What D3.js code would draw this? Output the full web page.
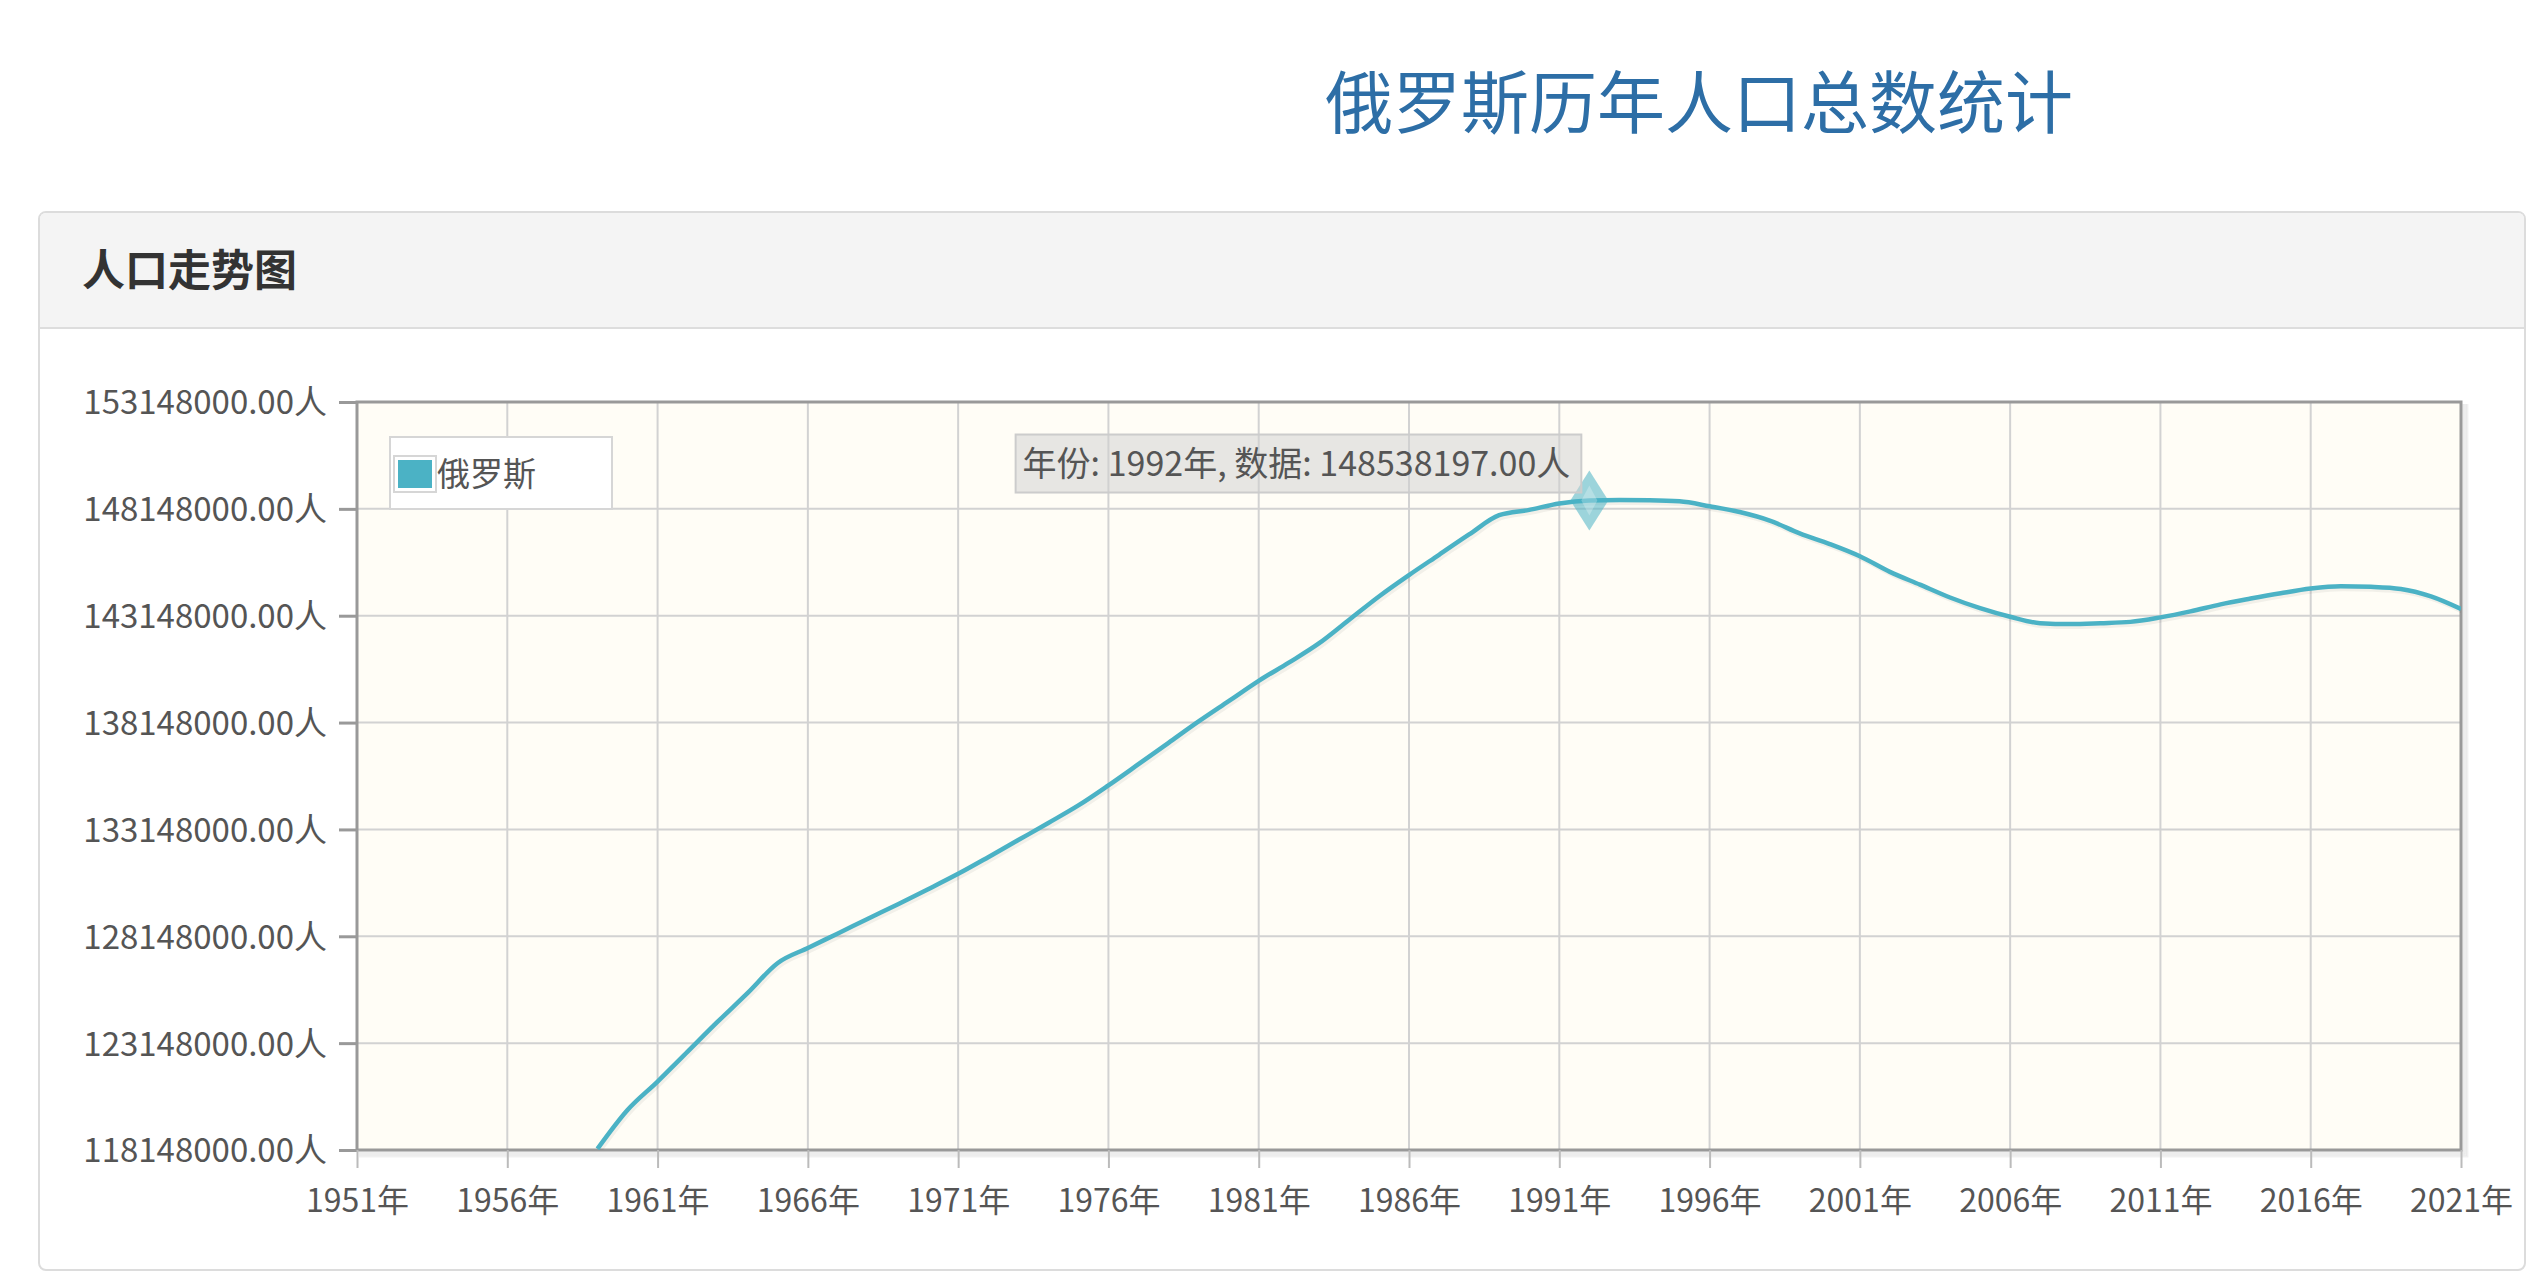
<!DOCTYPE html>
<html><head><meta charset="utf-8">
<script src="https://cdn.jsdelivr.net/npm/d3@7/dist/d3.min.js"></script>
<style>
html,body{margin:0;padding:0;background:#fff;}
svg{display:block;font-family:"Noto Sans CJK SC","Noto Sans",sans-serif;}
</style></head><body>
<svg id="chart" width="2534" height="1280"></svg>
<script>
// ---- data ----
const pageTitle = "俄罗斯历年人口总数统计";
const panelTitle = "人口走势图";
const seriesName = "俄罗斯";
const years = [1959,1960,1961,1962,1963,1964,1965,1966,1967,1968,1969,1970,
  1971,1972,1973,1974,1975,1976,1977,1978,1979,1980,1981,1982,1983,1984,1985,
  1986,1987,1988,1989,1990,1991,1992,1993,1994,1995,1996,1997,1998,1999,2000,
  2001,2002,2003,2004,2005,2006,2007,2008,2009,2010,2011,2012,2013,2014,2015,
  2016,2017,2018,2019,2020,2021];
const population = [118200000,120020000,121350000,122750000,124150000,125500000,126900000,127600000,128280000,128970000,129650000,130350000,
  131070000,131850000,132650000,133450000,134270000,135210000,136200000,137200000,138200000,139150000,140100000,140950000,141850000,142950000,144050000,
  145050000,146000000,146950000,147850000,148100000,148400000,148538197,148560000,148550000,148500000,148270000,148000000,147600000,147000000,146500000,
  145930000,145200000,144600000,144000000,143500000,143100000,142800000,142760000,142800000,142860000,143070000,143350000,143680000,143950000,144200000,
  144420000,144530000,144500000,144400000,144050000,143460000];
const yTickValues = [118148000,123148000,128148000,133148000,138148000,143148000,148148000,153148000];
const xTickValues = [1951,1956,1961,1966,1971,1976,1981,1986,1991,1996,2001,2006,2011,2016,2021];
const highlightYear = 1992;

// ---- layout ----
const svg = d3.select("#chart");
const plot = {left: 357, right: 2461, top: 402, bottom: 1150};
const lineColor = "#4bb2c5";
const fontCJK = '"Noto Sans CJK SC","Noto Sans",sans-serif';

const x = d3.scaleLinear().domain([xTickValues[0], xTickValues[xTickValues.length-1]]).range([plot.left, plot.right]);
const y = d3.scaleLinear().domain([yTickValues[0], yTickValues[yTickValues.length-1]]).range([plot.bottom, plot.top]);

// page title
svg.append("text").attr("x", 1699).attr("y", 128).attr("text-anchor", "middle")
  .attr("font-size", 68).attr("fill", "#2d6ea6").attr("font-family", fontCJK)
  .text(pageTitle);

// panel
svg.append("rect").attr("x", 39).attr("y", 212).attr("width", 2486).attr("height", 1058)
  .attr("rx", 7).attr("fill", "#fff").attr("stroke", "#dcdcdc").attr("stroke-width", 2);
svg.append("path").attr("d", "M40,328 V219 Q40,213 46,213 H2518 Q2524,213 2524,219 V328 Z")
  .attr("fill", "#f4f4f4");
svg.append("line").attr("x1", 40).attr("x2", 2524).attr("y1", 328).attr("y2", 328)
  .attr("stroke", "#dddddd").attr("stroke-width", 2);
svg.append("text").attr("x", 82).attr("y", 286).attr("font-size", 43).attr("font-weight", "bold")
  .attr("fill", "#333").attr("font-family", fontCJK).text(panelTitle);

// plot background
svg.append("rect").attr("x", plot.left).attr("y", plot.top)
  .attr("width", plot.right - plot.left).attr("height", plot.bottom - plot.top)
  .attr("fill", "#fffdf6");

// grid
const grid = svg.append("g");
grid.selectAll("line.h").data(yTickValues.slice(1, -1)).join("line")
  .attr("x1", plot.left).attr("x2", plot.right)
  .attr("y1", d => y(d)).attr("y2", d => y(d))
  .attr("stroke", "#d2d2d2").attr("stroke-width", 2);
grid.selectAll("line.v").data(xTickValues.slice(1, -1)).join("line")
  .attr("y1", plot.top).attr("y2", plot.bottom)
  .attr("x1", d => x(d)).attr("x2", d => x(d))
  .attr("stroke", "#d2d2d2").attr("stroke-width", 2);

// border shadow
for (let i = 1; i <= 4; i++) {
  svg.append("path")
    .attr("d", `M${plot.left + 2},${plot.bottom + i * 1.6} H${plot.right + i * 1.6} V${plot.top + 2}`)
    .attr("fill", "none").attr("stroke", "#000").attr("stroke-opacity", 0.06).attr("stroke-width", 2);
}
// border
svg.append("rect").attr("x", plot.left).attr("y", plot.top)
  .attr("width", plot.right - plot.left).attr("height", plot.bottom - plot.top)
  .attr("fill", "none").attr("stroke", "#999").attr("stroke-width", 3);

// y axis
const yAxis = d3.axisLeft(y).tickValues(yTickValues).tickSize(18).tickPadding(12)
  .tickFormat(d => d3.format(".2f")(d) + "人");
const gy = svg.append("g").attr("transform", `translate(${plot.left},0)`).call(yAxis);
gy.select(".domain").remove();
gy.selectAll(".tick line").attr("stroke", "#999").attr("stroke-width", 3);
gy.selectAll(".tick text").attr("font-size", 33).attr("fill", "#555").attr("font-family", fontCJK)
  .attr("dy", "0.36em");

// x axis
const xAxis = d3.axisBottom(x).tickValues(xTickValues).tickSize(18).tickPadding(21)
  .tickFormat(d => d + "年");
const gx = svg.append("g").attr("transform", `translate(0,${plot.bottom})`).call(xAxis);
gx.select(".domain").remove();
gx.selectAll(".tick line").attr("stroke", "#bbb").attr("stroke-width", 2);
gx.selectAll(".tick text").attr("font-size", 32).attr("fill", "#555").attr("font-family", fontCJK);

// clip
svg.append("clipPath").attr("id", "clip").append("rect")
  .attr("x", plot.left).attr("y", plot.top)
  .attr("width", plot.right - plot.left).attr("height", plot.bottom - plot.top);

const data = years.map((yr, i) => ({year: yr, value: population[i]}));
const line = d3.line().x(d => x(d.year)).y(d => y(d.value)).curve(d3.curveMonotoneX);

const lg = svg.append("g").attr("clip-path", "url(#clip)");
// line shadow
lg.append("path").datum(data).attr("d", line).attr("fill", "none")
  .attr("stroke", "#000").attr("stroke-opacity", 0.05).attr("stroke-width", 4)
  .attr("transform", "translate(2,3)");
lg.append("path").datum(data).attr("d", line).attr("fill", "none")
  .attr("stroke", lineColor).attr("stroke-width", 4.5).attr("stroke-linejoin", "round");

// legend
const legend = svg.append("g");
legend.append("rect").attr("x", 390).attr("y", 437).attr("width", 222).attr("height", 72)
  .attr("fill", "#fff").attr("stroke", "#d6d6d6").attr("stroke-width", 2);
legend.append("rect").attr("x", 394).attr("y", 456).attr("width", 42).attr("height", 36)
  .attr("fill", "#fff").attr("stroke", "#d6d6d6").attr("stroke-width", 2);
legend.append("rect").attr("x", 398).attr("y", 460).attr("width", 34).attr("height", 28)
  .attr("fill", lineColor);
legend.append("text").attr("x", 437).attr("y", 486).attr("font-size", 33).attr("fill", "#555")
  .attr("font-family", fontCJK).text(seriesName);

// highlight
const hd = data.find(d => d.year === highlightYear);
const hx = x(hd.year), hy = y(hd.value);
svg.append("path")
  .attr("d", `M${hx},${hy - 30} L${hx + 19},${hy} L${hx},${hy + 30} L${hx - 19},${hy} Z`)
  .attr("fill", lineColor).attr("fill-opacity", 0.55);
svg.append("path")
  .attr("d", `M${hx},${hy - 15} L${hx + 8},${hy} L${hx},${hy + 15} L${hx - 8},${hy} Z`)
  .attr("fill", "#fff").attr("fill-opacity", 0.25);

const tipText = `年份: ${hd.year}年, 数据: ${d3.format(".2f")(hd.value)}人`;
const tip = svg.append("g");
const tipRect = tip.append("rect");
const tt = tip.append("text").attr("font-size", 34).attr("fill", "#555")
  .attr("font-family", fontCJK).text(tipText);
const tw = tt.node().getComputedTextLength();
const boxW = tw + 18, boxH = 58;
const bx = hx - 8 - boxW, by = hy - 8 - boxH;
tipRect.attr("x", bx).attr("y", by).attr("width", boxW).attr("height", boxH)
  .attr("fill", "rgb(208,208,208)").attr("fill-opacity", 0.5)
  .attr("stroke", "#ccc").attr("stroke-width", 2);
tt.attr("x", bx + 7).attr("y", by + boxH / 2 + 12);
</script>
</body></html>
